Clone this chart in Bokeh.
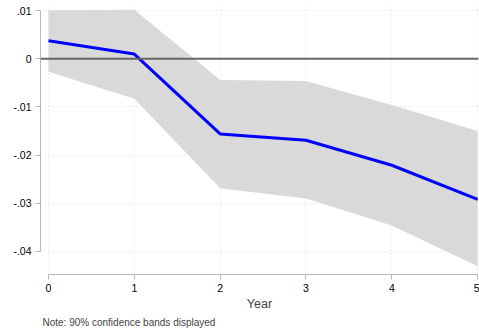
from bokeh.plotting import figure
from bokeh.models import ColumnDataSource, FixedTicker, Range1d, Title, Span
from bokeh.embed import file_html
from bokeh.resources import INLINE

years = [0, 1, 2, 3, 4, 5]
estimate = [0.00375, 0.0010, -0.0156, -0.0169, -0.0221, -0.0292]
upper = [0.0101, 0.0102, -0.0044, -0.0046, -0.0096, -0.0150]
lower = [-0.0027, -0.0083, -0.0269, -0.0290, -0.0346, -0.0431]
y_ticks = [0.01, 0.0, -0.01, -0.02, -0.03, -0.04]
y_tick_labels = [".01", "0", "-.01", "-.02", "-.03", "-.04"]
x_ticks = [0, 1, 2, 3, 4, 5]

src = ColumnDataSource(dict(x=years, est=estimate, up=upper, lo=lower))

FONT = "Liberation Sans"

p = figure(width=479, height=333, output_backend="svg", toolbar_location=None,
           x_range=Range1d(-0.093, 5.01), y_range=Range1d(-0.0448, 0.0115),
           min_border_left=40, min_border_right=1, min_border_top=3, min_border_bottom=0)
p.outline_line_color = None
p.background_fill_color = "white"

p.varea(x="x", y1="lo", y2="up", source=src, fill_color="#d9d9d9", fill_alpha=1.0)
p.add_layout(Span(location=0, dimension="width", line_color="#666666", line_width=2))
p.line(x="x", y="est", source=src, line_color="#0000ff", line_width=3)

# axes
p.yaxis.ticker = FixedTicker(ticks=y_ticks)
p.yaxis.major_label_overrides = {t: l for t, l in zip(y_ticks, y_tick_labels)}
p.xaxis.ticker = FixedTicker(ticks=x_ticks)
p.yaxis.bounds = (-0.04, 0.01)
p.xaxis.bounds = (0, 5)
for ax in (p.xaxis, p.yaxis):
    ax.axis_line_color = "#b8b8b8"
    ax.major_tick_line_color = "#b8b8b8"
    ax.major_tick_out = 5
    ax.major_tick_in = 0
    ax.minor_tick_line_color = None
    ax.major_label_text_font = FONT
    ax.major_label_text_font_size = "10.5px"
    ax.major_label_text_color = "black"
    ax.major_label_standoff = 4
p.yaxis.major_label_orientation = "horizontal"
p.xaxis.axis_label = "Year"
p.xaxis.axis_label_text_font = FONT
p.xaxis.axis_label_text_font_size = "12.5px"
p.xaxis.axis_label_text_font_style = "normal"
p.xaxis.axis_label_standoff = 2

for g in (p.xgrid, p.ygrid):
    g.grid_line_color = "#dcdcdc"
    g.grid_line_dash = "1 3"
    g.grid_line_width = 1
p.xgrid.ticker = FixedTicker(ticks=x_ticks)
p.ygrid.ticker = FixedTicker(ticks=y_ticks)

note = Title(text="Note: 90% confidence bands displayed", align="left",
             text_font=FONT, text_font_size="10px", text_font_style="normal",
             offset=2, standoff=3)
p.add_layout(note, "below")
spacer = Title(text=" ", text_font=FONT, text_font_size="2px", standoff=0)
p.add_layout(spacer, "below")

open("out.html", "w").write(file_html(p, INLINE))
